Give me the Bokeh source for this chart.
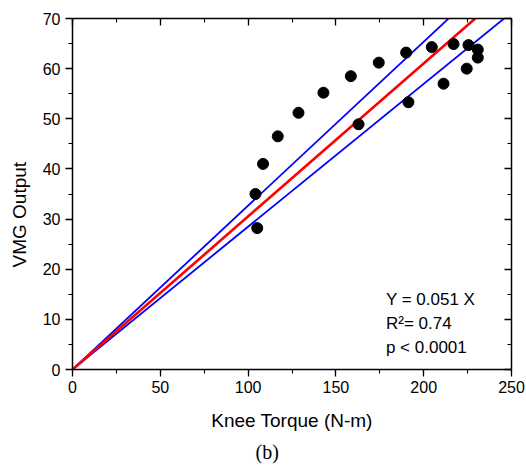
from bokeh.plotting import figure
from bokeh.models import (Range1d, LinearAxis, SingleIntervalTicker, Label, Title,
                          CustomJSTickFormatter, ColumnDataSource)
from bokeh.embed import file_html
from bokeh.resources import INLINE

# ---- data ----
knee_torque = [104.2, 105.2, 108.5, 116.9, 128.7, 142.9, 158.5, 162.9, 174.4,
               190.0, 191.3, 204.6, 211.3, 217.0, 224.5, 225.5, 230.8, 230.8]
vmg_output = [35.0, 28.2, 41.0, 46.5, 51.2, 55.2, 58.5, 48.9, 61.2,
              63.2, 53.3, 64.3, 57.0, 64.9, 60.0, 64.7, 63.8, 62.2]

fit_x = [0, 250]
fit_y = [0, 76.3]
upper_y = [0, 81.7]
lower_y = [0, 71.2]

x_ticks_interval = 50
y_ticks_interval = 10

eq_lines = ["Y = 0.051 X", "R\u00b2= 0.74", "p < 0.0001"]
eq_y = [14.0, 9.2, 4.4]
x_title = "Knee Torque (N-m)"
y_title = "VMG Output"
panel_label = "(b)"

FONT = "Liberation Sans"

p = figure(frame_width=439, frame_height=351,
           min_border_left=72, min_border_right=15,
           min_border_top=18, min_border_bottom=99,
           x_range=Range1d(0, 250), y_range=Range1d(0, 70),
           output_backend="svg", toolbar_location=None,
           x_axis_location=None, y_axis_location=None)
p.xgrid.visible = False
p.ygrid.visible = False
p.outline_line_color = None
p.background_fill_color = "white"
p.border_fill_color = "white"


def style_axis(ax, outward, show_labels):
    ax.axis_line_color = "black"
    ax.axis_line_width = 1.5
    ax.major_tick_line_color = "black"
    ax.minor_tick_line_color = "black"
    ax.major_tick_line_width = 1.3
    ax.minor_tick_line_width = 1.1
    if outward:
        ax.major_tick_out = 7
        ax.major_tick_in = 0
        ax.minor_tick_out = 4
        ax.minor_tick_in = 0
    else:
        ax.major_tick_out = 0
        ax.major_tick_in = 7
        ax.minor_tick_out = 0
        ax.minor_tick_in = 4
    if show_labels:
        ax.major_label_text_font = FONT
        ax.major_label_text_font_size = "16px"
        ax.major_label_text_color = "black"
    else:
        ax.formatter = CustomJSTickFormatter(code="return ''")
        ax.major_label_text_font_size = "0px"
        ax.major_label_standoff = 0


xb = LinearAxis(ticker=SingleIntervalTicker(interval=x_ticks_interval, num_minor_ticks=2))
style_axis(xb, True, True)
xb.major_label_standoff = 4
xb.axis_label = x_title
xb.axis_label_text_font = FONT
xb.axis_label_text_font_size = "19px"
xb.axis_label_text_font_style = "normal"
xb.axis_label_text_color = "black"
xb.axis_label_standoff = 14
p.add_layout(xb, "below")

yl = LinearAxis(ticker=SingleIntervalTicker(interval=y_ticks_interval, num_minor_ticks=2))
style_axis(yl, True, True)
yl.major_label_standoff = 5
p.add_layout(yl, "left")

xt = LinearAxis(ticker=SingleIntervalTicker(interval=x_ticks_interval, num_minor_ticks=2))
style_axis(xt, False, False)
p.add_layout(xt, "above")

yr = LinearAxis(ticker=SingleIntervalTicker(interval=y_ticks_interval, num_minor_ticks=2))
style_axis(yr, False, False)
p.add_layout(yr, "right")

# y title and panel label as titles (outside the frame)
p.add_layout(Title(text=y_title, align="left", offset=102, standoff=15,
                   vertical_align="top",
                   text_font=FONT, text_font_size="19px", text_font_style="normal",
                   text_color="black"), "left")
p.add_layout(Title(text=panel_label, align="left", offset=183, standoff=10,
                   vertical_align="bottom",
                   text_font="Liberation Serif", text_font_size="20px",
                   text_font_style="normal", text_color="black"), "below")

# lines
p.line(fit_x, upper_y, line_color="#0000ff", line_width=1.8)
p.line(fit_x, lower_y, line_color="#0000ff", line_width=1.8)
p.line(fit_x, fit_y, line_color="#ff0000", line_width=2.6)

# points
src = ColumnDataSource(dict(x=knee_torque, y=vmg_output))
p.scatter("x", "y", source=src, size=11, fill_color="black", line_color="black")

# equation text
for t, yy in zip(eq_lines, eq_y):
    p.add_layout(Label(x=178.5, y=yy, text=t, text_font=FONT, text_font_size="17px",
                       text_color="black", text_align="left", text_baseline="alphabetic"))

open("out.html", "w").write(file_html(p, INLINE))
